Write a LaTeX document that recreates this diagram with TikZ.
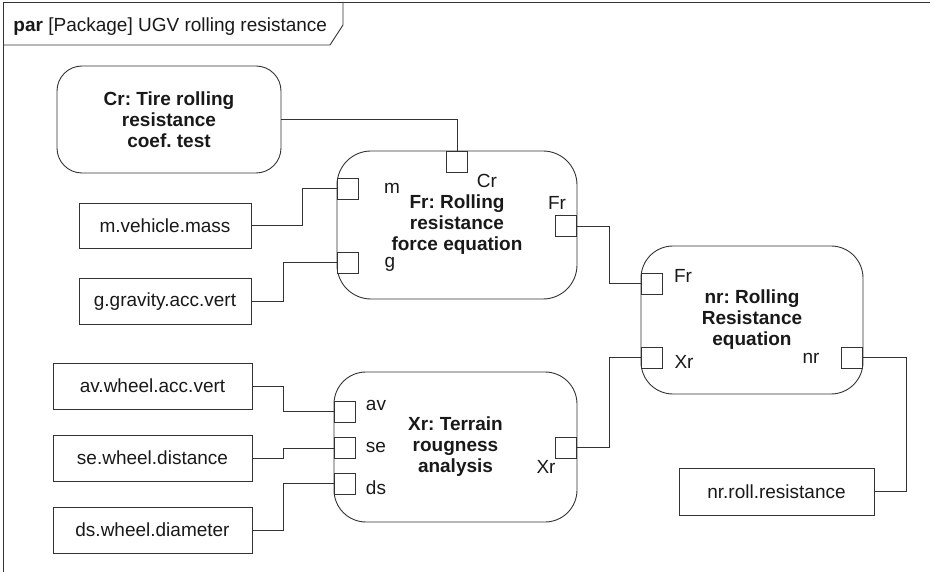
\documentclass[tikz,border=0pt]{standalone}
\usepackage{fontspec}
\setmainfont{Liberation Sans}
\frenchspacing
\begin{document}
\begin{tikzpicture}[x=1pt,y=-1pt,line width=0.9pt,draw=black!80,
  every node/.style={text=black!90,font=\fontsize{19}{21}\selectfont},
  valbox/.style={draw,rectangle,inner sep=0pt},
  block/.style={draw,align=center,inner sep=0pt,font=\fontsize{19}{21}\selectfont\bfseries},
  port/.style={draw,fill=white,minimum size=21pt,inner sep=0pt},
  plabel/.style={anchor=base,inner sep=0pt}]
  \useasboundingbox (0,0) rectangle (930,572);

  % Frame and header
  \draw (3,572) -- (3,2) -- (930,2);
  \draw (3,45) -- (330,45) -- (343,25) -- (343,2);
  \node[anchor=base west,inner sep=0pt] (hdr) at (13,32) {\textbf{par} [Package] UGV rolling resistance};

  % Constraint blocks
  \node[block,rounded corners=25pt,minimum width=224pt,minimum height=107pt] (Cr) at (169,119.5) {Cr: Tire rolling\\resistance\\coef. test};
  \node[block,rounded corners=34pt,minimum width=240pt,minimum height=148pt] (Fr) at (457,225) {Fr: Rolling\\resistance\\force equation};
  \node[block,rounded corners=32pt,minimum width=222pt,minimum height=148pt] (nr) at (752,320) {nr: Rolling\\Resistance\\equation};
  \node[block,rounded corners=32pt,minimum width=243pt,minimum height=150pt] (Xr) at (455.5,447) {Xr: Terrain\\rougness\\analysis};

  % Value boxes
  \node[valbox,minimum width=172pt,minimum height=45pt] (mbox) at (165,225.5) {m.vehicle.mass};
  \node[valbox,minimum width=172pt,minimum height=46pt] (gbox) at (165,301.5) {g.gravity.acc.vert};
  \node[valbox,minimum width=199pt,minimum height=46pt] (avbox) at (152.5,386) {av.wheel.acc.vert};
  \node[valbox,minimum width=199pt,minimum height=46pt] (sebox) at (152.5,458) {se.wheel.distance};
  \node[valbox,minimum width=199pt,minimum height=46pt] (dsbox) at (152.5,530) {ds.wheel.diameter};
  \node[valbox,minimum width=195pt,minimum height=47pt] (rollbox) at (776.5,491.5) {nr.roll.resistance};

  % Ports of Fr
  \node[port,anchor=north] (crport) at (457,151) {};
  \node[port,anchor=west] (mport) at (337,188.5) {};
  \node[port,anchor=west] (gport) at (337,262.5) {};
  \node[port,anchor=east] (frout) at (577,226) {};
  \node[plabel] (crlab) at (487,188) {Cr};
  \node[plabel] (mlab) at (392,194) {m};
  \node[plabel] (glab) at (390,268) {g};
  \node[plabel] (froutlab) at (557,210) {Fr};

  % Ports of nr
  \node[port,anchor=west] (nrfr) at (641,283.5) {};
  \node[port,anchor=west] (nrxr) at (641,357.5) {};
  \node[port,anchor=east] (nrout) at (863,357.5) {};
  \node[plabel] (nrfrlab) at (683,283) {Fr};
  \node[plabel] (nrxrlab) at (684,368) {Xr};
  \node[plabel] (nroutlab) at (811,363) {nr};

  % Ports of Xr
  \node[port,anchor=west] (avport) at (334,411.5) {};
  \node[port,anchor=west] (seport) at (334,448) {};
  \node[port,anchor=west] (dsport) at (334,483.5) {};
  \node[port,anchor=east] (xrout) at (577,447.5) {};
  \node[plabel] (avlab) at (376,410) {av};
  \node[plabel] (selab) at (376,452) {se};
  \node[plabel] (dslab) at (376,494) {ds};
  \node[plabel] (xroutlab) at (546,473) {Xr};

  % Connectors
  \draw (Cr.east) -| (crport.north);
  \draw (mbox.east) -- ++(51,0) |- (mport.west);
  \draw (gbox.east) -- ++(32,0) |- (gport.west);
  \draw (frout.east) -- ++(32,0) |- (nrfr.west);
  \draw (xrout.east) -- ++(32,0) |- (nrxr.west);
  \draw (nrout.east) -- ++(43,0) |- (rollbox.east);
  \draw (avbox.east) -- ++(31,0) |- (avport.west);
  \draw (sebox.east) -- ++(31,0) |- (seport.west);
  \draw (dsbox.east) -- ++(31,0) |- (dsport.west);
\end{tikzpicture}
\end{document}
